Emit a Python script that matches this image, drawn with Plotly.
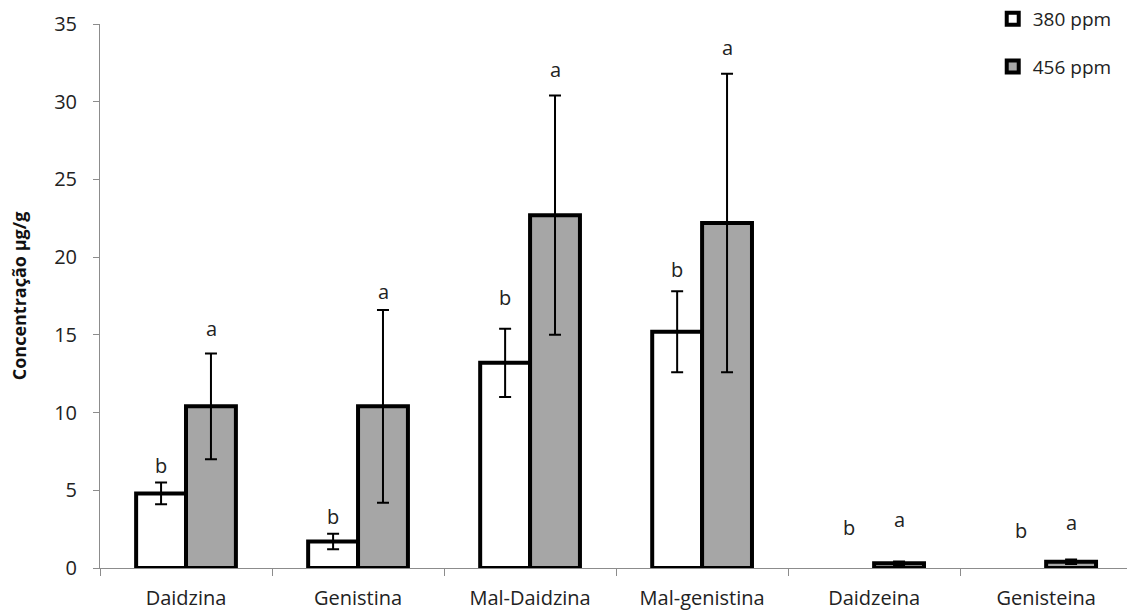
import plotly.graph_objects as go

categories = ["Daidzina", "Genistina", "Mal-Daidzina", "Mal-genistina", "Daidzeina", "Genisteina"]
v380 = [4.8, 1.7, 13.2, 15.2, 0.0, 0.0]
e380 = [0.7, 0.5, 2.2, 2.6, 0.0, 0.0]
v456 = [10.4, 10.4, 22.7, 22.2, 0.3, 0.4]
e456 = [3.4, 6.2, 7.7, 9.6, 0.12, 0.15]
lab380 = ["b", "b", "b", "b", "b", "b"]
lab456 = ["a", "a", "a", "a", "a", "a"]
laby380 = [6.6, 3.3, 17.4, 19.2, 2.6, 2.4]
laby456 = [15.4, 17.8, 32.1, 33.5, 3.1, 2.9]

FONT = "Open Sans"
TXT = "#222"


def shown(vals, ref):
    # a zero bar is not drawn at all (no outline, no error cap)
    return [v if r > 0 else None for v, r in zip(vals, ref)]


fig = go.Figure()
fig.add_trace(go.Bar(
    name="380 ppm", x=categories, y=shown(v380, v380),
    marker=dict(color="white", line=dict(color="black", width=4)),
    error_y=dict(type="data", array=shown(e380, v380), color="black", thickness=2, width=6),
    legendgroup="g1",
))
fig.add_trace(go.Bar(
    name="456 ppm", x=categories, y=shown(v456, v456),
    marker=dict(color="#a6a6a6", line=dict(color="black", width=4)),
    error_y=dict(type="data", array=shown(e456, v456), color="black", thickness=2, width=6),
    legendgroup="g2",
))

annotations = []
for i, c in enumerate(categories):
    annotations.append(dict(x=c, y=laby380[i], text=lab380[i], showarrow=False,
                            xshift=-25, font=dict(family=FONT, size=20, color=TXT)))
    annotations.append(dict(x=c, y=laby456[i], text=lab456[i], showarrow=False,
                            xshift=25, font=dict(family=FONT, size=20, color=TXT)))

fig.update_layout(
    width=1127, height=616,
    margin=dict(l=100, r=0, t=22, b=48),
    paper_bgcolor="white", plot_bgcolor="white",
    barmode="group", bargap=0.42, bargroupgap=0,
    font=dict(family=FONT, size=20, color=TXT),
    annotations=annotations,
    legend=dict(x=0.99, y=1.045, xanchor="right", yanchor="top",
                font=dict(family=FONT, size=19, color=TXT),
                tracegroupgap=20, traceorder="grouped", itemwidth=30,
                bgcolor="rgba(0,0,0,0)"),
    showlegend=True,
)
fig.update_xaxes(
    range=[-0.5, 5.47], showline=True, linecolor="#8c8c8c", linewidth=1,
    ticks="outside", tickson="boundaries", ticklen=7, tickcolor="#8c8c8c",
    showgrid=False, tickfont=dict(family=FONT, size=20, color=TXT),
    ticklabelstandoff=12,
)
fig.update_yaxes(
    range=[0, 35], dtick=5, showline=True, linecolor="#8c8c8c", linewidth=1,
    ticks="outside", ticklen=6, tickcolor="#8c8c8c", showgrid=False,
    zeroline=False,
    tickfont=dict(family=FONT, size=20, color=TXT), ticklabelstandoff=12,
    title=dict(text="<b>Concentração µg/g</b>", font=dict(family=FONT, size=18, color="#111"), standoff=22),
)

fig.write_html("out.html")
